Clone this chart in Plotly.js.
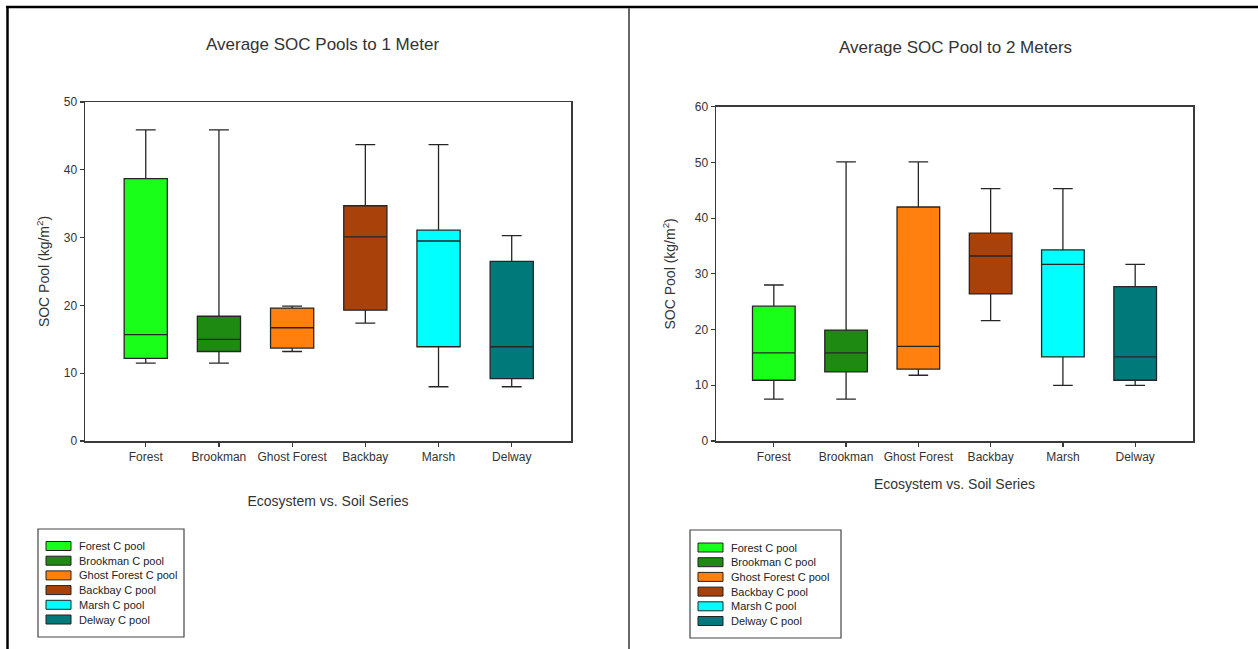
<!DOCTYPE html>
<html><head><meta charset="utf-8">
<script src="https://cdn.plot.ly/plotly-3.0.1.min.js"></script>
<style>html,body{margin:0;padding:0;background:#fff}#chart{width:1258px;height:649px}</style>
</head><body><div id="chart"></div>
<script>
// ---- data ----
const categories = ['Forest', 'Brookman', 'Ghost Forest', 'Backbay', 'Marsh', 'Delway'];
const legendLabels = ['Forest C pool', 'Brookman C pool', 'Ghost Forest C pool', 'Backbay C pool', 'Marsh C pool', 'Delway C pool'];
const colors = ['#1aff1a', '#1f8a12', '#ff7f0f', '#a8420a', '#00ffff', '#00797b'];

// SOC pools to 1 meter (kg/m2)
const m1Lower  = [11.5, 11.5, 13.2, 17.4,  8.0,  8.0];
const m1Q1     = [12.2, 13.2, 13.7, 19.3, 13.9,  9.2];
const m1Median = [15.7, 15.0, 16.7, 30.1, 29.5, 13.9];
const m1Q3     = [38.7, 18.4, 19.6, 34.7, 31.1, 26.5];
const m1Upper  = [45.9, 45.9, 19.9, 43.7, 43.7, 30.3];

// SOC pools to 2 meters (kg/m2)
const m2Lower  = [ 7.5,  7.5, 11.8, 21.6, 10.0, 10.0];
const m2Q1     = [10.9, 12.4, 12.9, 26.4, 15.1, 10.9];
const m2Median = [15.8, 15.8, 17.0, 33.2, 31.7, 15.1];
const m2Q3     = [24.2, 19.9, 42.0, 37.3, 34.3, 27.7];
const m2Upper  = [28.0, 50.1, 50.1, 45.3, 45.3, 31.7];

const chartTitles = ['Average SOC Pools to 1 Meter', 'Average SOC Pool to 2 Meters'];
const yTitle = 'SOC Pool (kg/m<sup>2</sup>)';
const xTitle = 'Ecosystem vs. Soil Series';

// ---- layout helpers ----
const W = 1258, H = 649;
const px = p => p / W;
const py = p => 1 - p / H;
const FONT = 'Liberation Sans, Arial, sans-serif';

function boxTraces(lower, q1, med, q3, upper, xa, ya) {
  return categories.map((c, i) => ({
    type: 'box',
    name: legendLabels[i],
    x: [c],
    lowerfence: [lower[i]], q1: [q1[i]], median: [med[i]], q3: [q3[i]], upperfence: [upper[i]],
    xaxis: xa, yaxis: ya,
    fillcolor: colors[i],
    line: {color: '#262626', width: 1.3},
    width: 0.59,
    whiskerwidth: 0.46,
    boxpoints: false,
    showlegend: false
  }));
}

const data = [
  ...boxTraces(m1Lower, m1Q1, m1Median, m1Q3, m1Upper, 'x', 'y'),
  ...boxTraces(m2Lower, m2Q1, m2Median, m2Q3, m2Upper, 'x2', 'y2')
];

const axisCommon = {
  showline: true, mirror: true, linecolor: '#3a3a3a', linewidth: 1.5,
  ticks: 'outside', ticklen: 4, tickwidth: 1.2, tickcolor: '#3a3a3a',
  showgrid: false, zeroline: false,
  tickfont: {family: FONT, size: 12, color: '#333'},
  fixedrange: true
};

const shapes = [];
const annotations = [];

// outer frame
shapes.push({type: 'line', xref: 'paper', yref: 'paper', x0: px(6), x1: 1, y0: py(7), y1: py(7), line: {color: '#000', width: 2.5}});
shapes.push({type: 'line', xref: 'paper', yref: 'paper', x0: px(7.5), x1: px(7.5), y0: py(6), y1: 0, line: {color: '#000', width: 2.5}});
shapes.push({type: 'line', xref: 'paper', yref: 'paper', x0: px(629), x1: px(629), y0: py(8), y1: 0, line: {color: '#666', width: 2}});

// chart titles
annotations.push({xref: 'paper', yref: 'paper', x: px(322), y: py(44), text: chartTitles[0], showarrow: false,
  xanchor: 'center', yanchor: 'middle', font: {family: FONT, size: 17, color: '#333'}});
annotations.push({xref: 'paper', yref: 'paper', x: px(955), y: py(48), text: chartTitles[1], showarrow: false,
  xanchor: 'center', yanchor: 'middle', font: {family: FONT, size: 17, color: '#333'}});

// legends
function drawLegend(bx0, bx1, by0, by1, sx0, tx, row0, step) {
  shapes.push({type: 'rect', xref: 'paper', yref: 'paper', x0: px(bx0), x1: px(bx1), y0: py(by1), y1: py(by0),
    line: {color: '#444', width: 1.2}, fillcolor: 'rgba(0,0,0,0)'});
  legendLabels.forEach((lab, i) => {
    const cy = row0 + i * step;
    shapes.push({type: 'rect', xref: 'paper', yref: 'paper', x0: px(sx0), x1: px(sx0 + 25), y0: py(cy + 4.5), y1: py(cy - 4.5),
      line: {color: '#222', width: 1}, fillcolor: colors[i]});
    annotations.push({xref: 'paper', yref: 'paper', x: px(tx), y: py(cy), text: lab, showarrow: false,
      xanchor: 'left', yanchor: 'middle', font: {family: FONT, size: 11, color: '#222'}});
  });
}
drawLegend(38, 184, 529, 637, 46, 77, 546, 14.7);
drawLegend(690, 841, 530, 638, 698, 729, 547.5, 14.7);

const layout = {
  width: W, height: H,
  margin: {l: 0, r: 0, t: 0, b: 0},
  paper_bgcolor: '#fff', plot_bgcolor: '#fff',
  showlegend: false,
  boxmode: 'overlay',
  font: {family: FONT, color: '#333'},
  xaxis: Object.assign({}, axisCommon, {
    domain: [px(85), px(571)], anchor: 'y', type: 'category', categoryarray: categories, categoryorder: 'array',
    range: [-0.83, 5.81],
    title: {text: xTitle, font: {family: FONT, size: 14, color: '#333'}, standoff: 33}
  }),
  yaxis: Object.assign({}, axisCommon, {
    domain: [py(441), py(102)], anchor: 'x', range: [0, 50], dtick: 10,
    title: {text: yTitle, font: {family: FONT, size: 14, color: '#333'}, standoff: 11}
  }),
  xaxis2: Object.assign({}, axisCommon, {
    domain: [px(716), px(1193)], anchor: 'y2', type: 'category', categoryarray: categories, categoryorder: 'array',
    range: [-0.8, 5.8],
    title: {text: xTitle, font: {family: FONT, size: 14, color: '#333'}, standoff: 16}
  }),
  yaxis2: Object.assign({}, axisCommon, {
    domain: [py(441), py(106.7)], anchor: 'x2', range: [0, 60], dtick: 10,
    title: {text: yTitle, font: {family: FONT, size: 14, color: '#333'}, standoff: 16}
  }),
  shapes: shapes,
  annotations: annotations
};

Plotly.newPlot('chart', data, layout, {displayModeBar: false, staticPlot: true});
</script>
</body></html>
